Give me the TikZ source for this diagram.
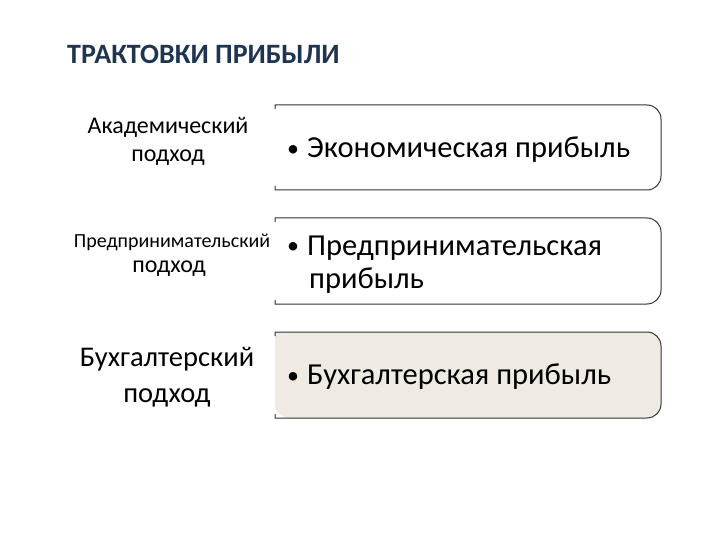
\documentclass[tikz,border=0pt]{standalone}
\usepackage{fontspec}
\usetikzlibrary{calc}
\setmainfont{Carlito}
\definecolor{titlec}{HTML}{1F3450}
\definecolor{boxfill}{HTML}{EFEBE3}
\definecolor{linec}{HTML}{333333}
\newcommand{\smbul}{{\fontsize{24}{24}\selectfont\raisebox{1.5pt}{•}}\hspace{8pt}}
\begin{document}
\begin{tikzpicture}[x=1pt,y=-1pt,
  boxline/.style={draw=linec,line width=1pt,rounded corners=14pt},
  lbl/.style={align=center,inner sep=0pt,text=black},
  btxt/.style={anchor=west,inner sep=0pt,align=left,text=black,font=\fontsize{30.5}{34}\selectfont}]
\useasboundingbox (0,0) rectangle (720,540);
\node[anchor=west,inner sep=0pt,text=titlec,font=\bfseries\fontsize{28}{32}\selectfont] (title) at (67,54) {ТРАКТОВКИ ПРИБЫЛИ};
% boxes
\foreach \ya/\yb/\nm in {105/190/b1,218/304/b2,332/418/b3}{
  \coordinate (\nm tl) at (275,\ya);
  \coordinate (\nm br) at (661,\yb);
}
\fill[boxfill,rounded corners=14pt] (275,332) -- (661,332) -- (661,418) -- (275,418) [sharp corners] -- cycle;
\foreach \nm in {b1,b2,b3}{
  \draw[boxline] ($(\nm tl)+(0,4)$) [sharp corners]-- (\nm tl) [rounded corners=14pt] -- (\nm tl -| \nm br) -- (\nm br) [sharp corners] -- (\nm br -| \nm tl) -- ($(\nm br -| \nm tl)+(0,-4)$);
}
% left labels
\node[lbl,font=\fontsize{24}{28}\selectfont] (l1) at (168,141) {Академический\\подход};
\node[lbl,font=\fontsize{20}{24}\selectfont] (l2a) at (172,242) {Предпринимательский};
\node[lbl,font=\fontsize{24}{28}\selectfont] (l2b) at (169,269) {подход};
\node[lbl,font=\fontsize{28.5}{36}\selectfont] (l3) at (167,377) {Бухгалтерский\\подход};
% box texts
\node[btxt] (t1) at (287,150) {\smbul Экономическая прибыль};
\node[btxt] (t2) at (287,248) {\smbul Предпринимательская};
\node[btxt] (t2b) at (309,281) {прибыль};
\node[btxt] (t3) at (287,377) {\smbul Бухгалтерская прибыль};
\end{tikzpicture}
\end{document}
